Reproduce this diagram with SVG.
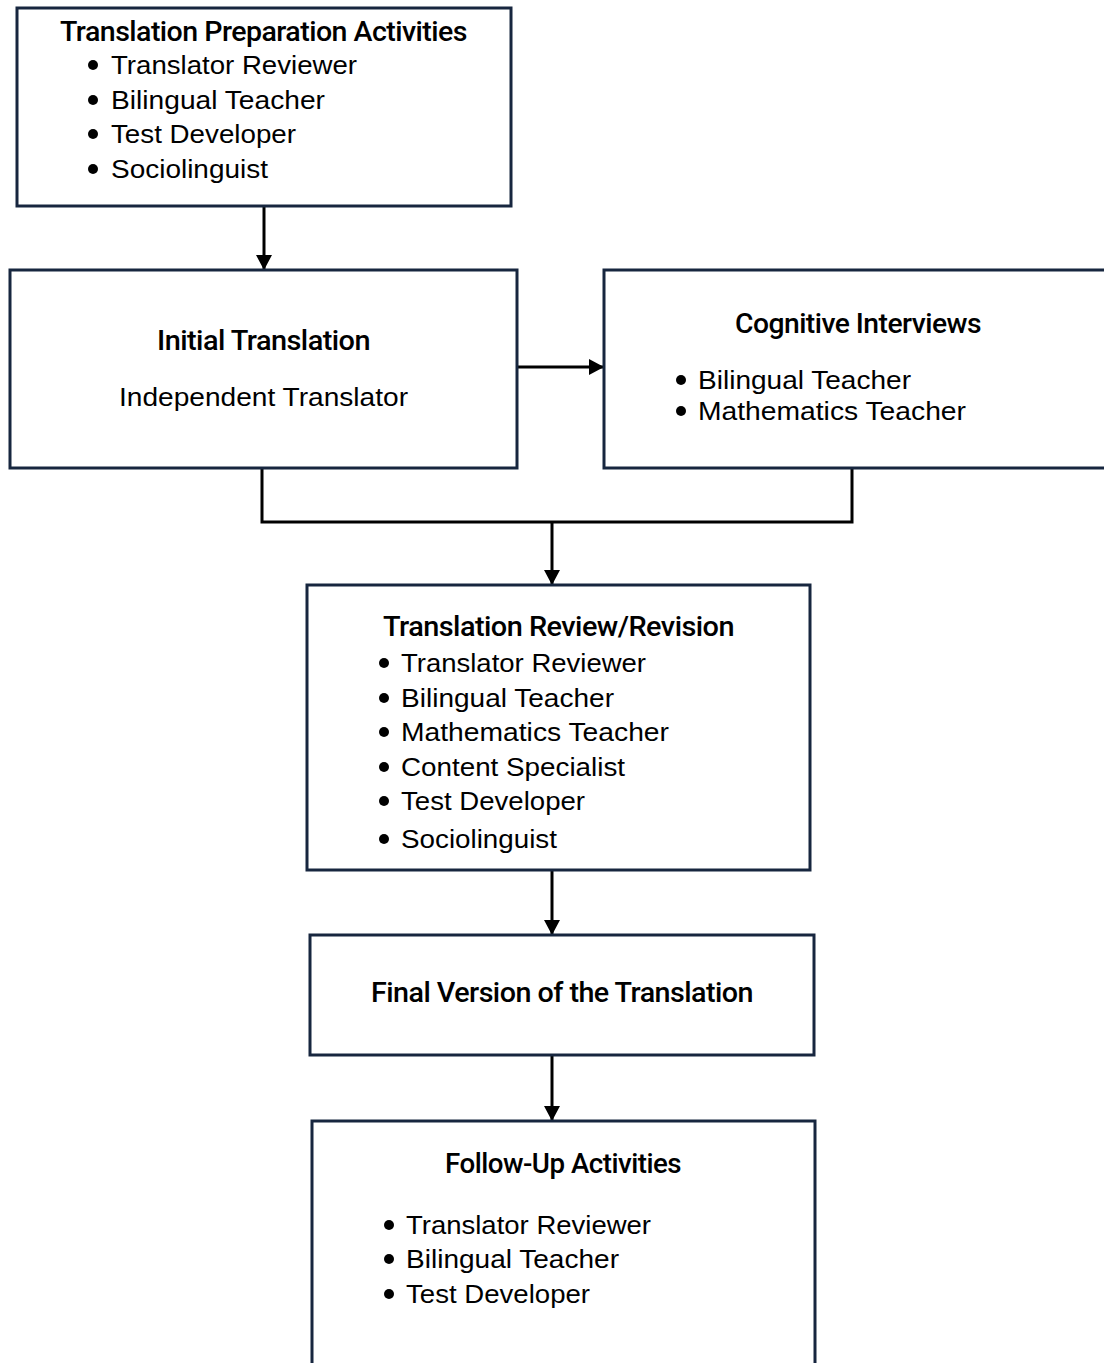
<svg xmlns="http://www.w3.org/2000/svg" width="1104" height="1363" viewBox="0 0 1104 1363">
<style>
.box{fill:#ffffff;stroke:#17263f;stroke-width:3}
.con{fill:none;stroke:#000000;stroke-width:3}
.t{font-family:"Roboto","Liberation Sans",sans-serif;font-weight:500;font-size:27px;fill:#000;letter-spacing:-0.5px}
.i{font-family:"Liberation Sans","Noto Sans",sans-serif;font-size:26px;fill:#000}
.dot{fill:#000}
</style>
<defs>
<marker id="ah" markerUnits="userSpaceOnUse" markerWidth="18" markerHeight="18" refX="15" refY="8" orient="auto">
<path d="M0,0 L15,8 L0,16 z" fill="#000"/>
</marker>
</defs>
<rect width="1104" height="1363" fill="#ffffff"/>
<g id="connectors">
<line class="con" x1="264" y1="206" x2="264" y2="270" marker-end="url(#ah)"/>
<line class="con" x1="517" y1="367" x2="604" y2="367" marker-end="url(#ah)"/>
<polyline class="con" points="262,468 262,522 852,522 852,468"/>
<line class="con" x1="552" y1="522" x2="552" y2="585" marker-end="url(#ah)"/>
<line class="con" x1="552" y1="870" x2="552" y2="935" marker-end="url(#ah)"/>
<line class="con" x1="552" y1="1055" x2="552" y2="1121" marker-end="url(#ah)"/>
</g>
<g id="prep">
<rect class="box" x="17" y="8" width="494" height="198"/>
<text class="t" x="60" y="41" textLength="407" lengthAdjust="spacingAndGlyphs">Translation Preparation Activities</text>
<circle class="dot" cx="93" cy="65" r="5"/><text class="i" x="111" y="74" textLength="246" lengthAdjust="spacingAndGlyphs">Translator Reviewer</text>
<circle class="dot" cx="93" cy="100" r="5"/><text class="i" x="111" y="109" textLength="214" lengthAdjust="spacingAndGlyphs">Bilingual Teacher</text>
<circle class="dot" cx="93" cy="134" r="5"/><text class="i" x="111" y="143" textLength="185" lengthAdjust="spacingAndGlyphs">Test Developer</text>
<circle class="dot" cx="93" cy="169" r="5"/><text class="i" x="111" y="178" textLength="157" lengthAdjust="spacingAndGlyphs">Sociolinguist</text>
</g>
<g id="initial">
<rect class="box" x="10" y="270" width="507" height="198"/>
<text class="t" x="157" y="350" textLength="213" lengthAdjust="spacingAndGlyphs">Initial Translation</text>
<text class="i" x="119" y="406" textLength="289" lengthAdjust="spacingAndGlyphs">Independent Translator</text>
</g>
<g id="cognitive">
<rect class="box" x="604" y="270" width="520" height="198"/>
<text class="t" x="735" y="333" textLength="246" lengthAdjust="spacingAndGlyphs">Cognitive Interviews</text>
<circle class="dot" cx="681" cy="380" r="5"/><text class="i" x="698" y="389" textLength="213" lengthAdjust="spacingAndGlyphs">Bilingual Teacher</text>
<circle class="dot" cx="681" cy="411" r="5"/><text class="i" x="698" y="420" textLength="268" lengthAdjust="spacingAndGlyphs">Mathematics Teacher</text>
</g>
<g id="review">
<rect class="box" x="307" y="585" width="503" height="285"/>
<text class="t" x="383" y="636" textLength="351" lengthAdjust="spacingAndGlyphs">Translation Review/Revision</text>
<circle class="dot" cx="384" cy="663" r="5"/><text class="i" x="401" y="672" textLength="245" lengthAdjust="spacingAndGlyphs">Translator Reviewer</text>
<circle class="dot" cx="384" cy="698" r="5"/><text class="i" x="401" y="707" textLength="213" lengthAdjust="spacingAndGlyphs">Bilingual Teacher</text>
<circle class="dot" cx="384" cy="732" r="5"/><text class="i" x="401" y="741" textLength="268" lengthAdjust="spacingAndGlyphs">Mathematics Teacher</text>
<circle class="dot" cx="384" cy="767" r="5"/><text class="i" x="401" y="776" textLength="224" lengthAdjust="spacingAndGlyphs">Content Specialist</text>
<circle class="dot" cx="384" cy="801" r="5"/><text class="i" x="401" y="810" textLength="184" lengthAdjust="spacingAndGlyphs">Test Developer</text>
<circle class="dot" cx="384" cy="839" r="5"/><text class="i" x="401" y="848" textLength="156" lengthAdjust="spacingAndGlyphs">Sociolinguist</text>
</g>
<g id="final">
<rect class="box" x="310" y="935" width="504" height="120"/>
<text class="t" x="371" y="1002" textLength="382" lengthAdjust="spacingAndGlyphs">Final Version of the Translation</text>
</g>
<g id="followup">
<rect class="box" x="312" y="1121" width="503" height="260"/>
<text class="t" x="445" y="1173" textLength="236" lengthAdjust="spacingAndGlyphs">Follow-Up Activities</text>
<circle class="dot" cx="389" cy="1225" r="5"/><text class="i" x="406" y="1234" textLength="245" lengthAdjust="spacingAndGlyphs">Translator Reviewer</text>
<circle class="dot" cx="389" cy="1259" r="5"/><text class="i" x="406" y="1268" textLength="213" lengthAdjust="spacingAndGlyphs">Bilingual Teacher</text>
<circle class="dot" cx="389" cy="1294" r="5"/><text class="i" x="406" y="1303" textLength="184" lengthAdjust="spacingAndGlyphs">Test Developer</text>
</g>
</svg>
